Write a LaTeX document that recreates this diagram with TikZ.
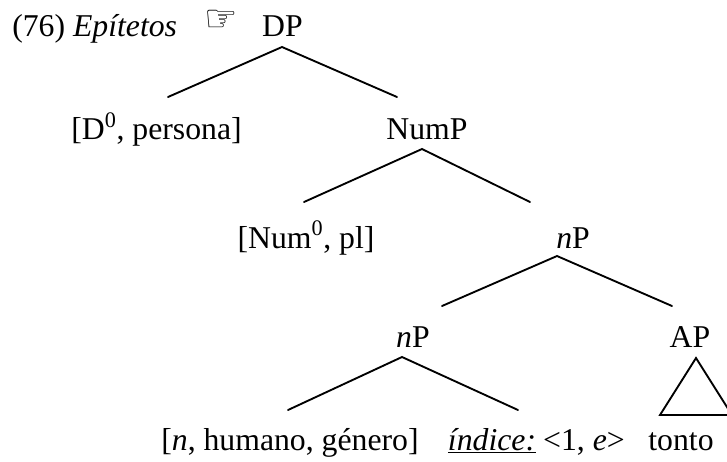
\documentclass[tikz,border=0pt]{standalone}
\usepackage{fontspec}
\setmainfont{Liberation Serif}
\newfontfamily\symfont{DejaVu Sans}
\begin{document}
\begin{tikzpicture}[x=0.75pt,y=-0.75pt,
  lbl/.style={anchor=base,inner sep=0pt,font=\fontsize{23.8}{28}\selectfont},
  branch/.style={line width=1.4pt,line cap=round}]
\useasboundingbox (0,0) rectangle (727,461);
% labels
\node[lbl,anchor=base west] (ex) at (12,36) {(76) \textit{Epítetos}};
\node[inner sep=0pt,font=\symfont\fontsize{28}{30}\selectfont] (hand) at (221,21) {☞};
\node[lbl] (DP) at (282.5,36) {DP};
\node[lbl] (D0) at (156.5,139.5) {[D\textsuperscript{0}, persona]};
\node[lbl] (NumP) at (427,139.5) {NumP};
\node[lbl] (Num0) at (306,248) {[Num\textsuperscript{0}, pl]};
\node[lbl] (nP1) at (573,248) {\textit{n}P};
\node[lbl] (nP2) at (413,347.5) {\textit{n}P};
\node[lbl] (AP) at (690,347.5) {AP};
\node[lbl] (feat) at (290,450) {[\textit{n}, humano, género]};
\node[lbl] (ind) at (492,450) {\underline{\textit{índice:}}};
\node[lbl] (idx) at (584,450) {<1, \textit{e}>};
\node[lbl] (tonto) at (681,450) {tonto};
% branch points
\coordinate (DPb) at (282,47);
\coordinate (D0t) at (168,97);
\coordinate (NumPt) at (397,97);
\coordinate (NumPb) at (422,149);
\coordinate (Num0t) at (304,202);
\coordinate (nP1t) at (530,202);
\coordinate (nP1b) at (557,256);
\coordinate (nP2t) at (442,306);
\coordinate (APt) at (672,306);
\coordinate (nP2b) at (402,357);
\coordinate (featt) at (288,410);
\coordinate (indt) at (518,410);
\coordinate (APb) at (696,358);
\coordinate (triL) at (660,415);
\coordinate (triR) at (732,415);
% branches
\draw[branch] (D0t) -- (DPb) -- (NumPt);
\draw[branch] (Num0t) -- (NumPb) -- (nP1t);
\draw[branch] (nP2t) -- (nP1b) -- (APt);
\draw[branch] (featt) -- (nP2b) -- (indt);
\draw[branch,line join=miter] (triL) -- (APb) -- (triR) -- cycle;
\end{tikzpicture}
\end{document}
